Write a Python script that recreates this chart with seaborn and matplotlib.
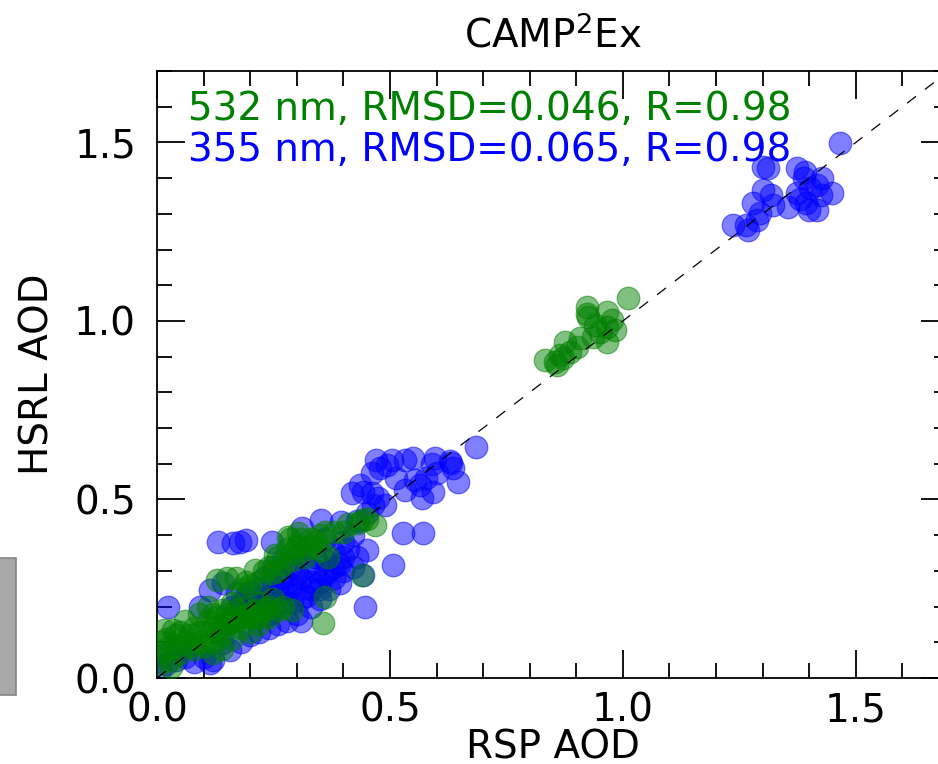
import matplotlib
matplotlib.use("Agg")
import matplotlib.pyplot as plt
from matplotlib.patches import Rectangle
from matplotlib.ticker import MultipleLocator
import seaborn as sns

# RSP vs HSRL AOD
blue_x = [1.467, 1.300, 1.312, 1.373, 1.391, 1.388, 1.428, 1.301, 1.319, 1.373,
          1.401, 1.416, 1.448, 1.426, 1.280, 1.323, 1.355, 1.380, 1.394, 1.416,
          1.400, 1.294, 1.287, 1.237, 1.265, 1.269,
          0.685, 0.632, 0.628, 0.636, 0.647, 0.597, 0.600, 0.593, 0.568, 0.564,
          0.554, 0.550, 0.532, 0.532, 0.514, 0.504, 0.493, 0.471, 0.479, 0.461,
          0.436, 0.418, 0.443, 0.461, 0.475, 0.489, 0.464, 0.450, 0.529, 0.571,
          0.506, 0.578, 0.590,
          0.450, 0.443, 0.446, 0.393, 0.430, 0.396, 0.353, 0.311, 0.132, 0.164,
          0.178, 0.192, 0.246, 0.420, 0.410, 0.400, 0.380, 0.360, 0.430, 0.420,
          0.400, 0.380, 0.390, 0.370, 0.350, 0.340, 0.330, 0.310, 0.320, 0.300,
          0.290, 0.280, 0.270, 0.260, 0.250, 0.240, 0.230, 0.220, 0.210, 0.200,
          0.190, 0.180, 0.170, 0.160, 0.171, 0.142, 0.114, 0.092, 0.300, 0.310,
          0.280, 0.260, 0.240, 0.220, 0.200, 0.180, 0.157, 0.139, 0.120, 0.114,
          0.100, 0.080, 0.060, 0.040, 0.020, 0.006, 0.015, 0.024, 0.050, 0.330,
          0.350, 0.370, 0.250, 0.270, 0.310, 0.290, 0.340, 0.360, 0.230, 0.200,
          0.150, 0.130,
          0.220, 0.250, 0.280, 0.310, 0.330, 0.360, 0.380, 0.350, 0.300, 0.270,
          0.320, 0.400, 0.260, 0.290, 0.240]
blue_y = [1.499, 1.431, 1.427, 1.427, 1.417, 1.400, 1.399, 1.366, 1.352, 1.357,
          1.371, 1.380, 1.357, 1.352, 1.329, 1.324, 1.319, 1.342, 1.329, 1.310,
          1.310, 1.301, 1.282, 1.268, 1.268, 1.254,
          0.646, 0.601, 0.607, 0.587, 0.550, 0.615, 0.573, 0.521, 0.503, 0.540,
          0.554, 0.615, 0.610, 0.526, 0.559, 0.610, 0.596, 0.610, 0.587, 0.573,
          0.540, 0.517, 0.521, 0.517, 0.503, 0.484, 0.484, 0.461, 0.405, 0.405,
          0.316, 0.560, 0.600,
          0.358, 0.288, 0.200, 0.266, 0.440, 0.437, 0.442, 0.419, 0.381, 0.379,
          0.381, 0.386, 0.381, 0.400, 0.360, 0.380, 0.350, 0.330, 0.340, 0.310,
          0.300, 0.280, 0.320, 0.300, 0.270, 0.300, 0.250, 0.280, 0.230, 0.250,
          0.210, 0.270, 0.240, 0.210, 0.260, 0.230, 0.200, 0.250, 0.220, 0.190,
          0.230, 0.210, 0.170, 0.200, 0.237, 0.265, 0.246, 0.200, 0.180, 0.160,
          0.160, 0.150, 0.140, 0.130, 0.120, 0.100, 0.078, 0.097, 0.050, 0.041,
          0.060, 0.045, 0.060, 0.050, 0.040, 0.022, 0.065, 0.200, 0.090, 0.200,
          0.220, 0.250, 0.310, 0.330, 0.350, 0.310, 0.340, 0.390, 0.280, 0.240,
          0.150, 0.130,
          0.170, 0.190, 0.210, 0.220, 0.270, 0.290, 0.310, 0.250, 0.290, 0.280,
          0.310, 0.340, 0.250, 0.260, 0.180]

green_x = [1.011, 0.922, 0.922, 0.965, 0.926, 0.976, 0.965, 0.983, 0.951, 0.936,
           0.965, 0.908, 0.876, 0.901, 0.886, 0.865, 0.872, 0.833, 0.854, 0.858,
           0.940,
           0.468, 0.439, 0.432, 0.450, 0.410, 0.400, 0.380, 0.350, 0.330, 0.310,
           0.303, 0.285, 0.282, 0.353, 0.368, 0.318, 0.290, 0.270, 0.253, 0.246,
           0.230, 0.210, 0.190, 0.170, 0.150, 0.128, 0.439, 0.361, 0.357, 0.290,
           0.270, 0.260, 0.250, 0.240, 0.240, 0.217, 0.230, 0.220, 0.210, 0.200,
           0.190, 0.180, 0.170, 0.160, 0.150, 0.140, 0.130, 0.120, 0.110, 0.100,
           0.090, 0.080, 0.070, 0.060, 0.050, 0.035, 0.014, 0.010, 0.020, 0.006,
           0.030, 0.050, 0.040, 0.080, 0.100, 0.120, 0.140, 0.160, 0.180, 0.200,
           0.220, 0.060, 0.090, 0.110, 0.005, 0.030, 0.120, 0.140, 0.320, 0.340,
           0.260, 0.280, 0.300, 0.200, 0.180,
           0.020, 0.040, 0.070, 0.090, 0.130, 0.150, 0.170, 0.190, 0.210, 0.160,
           0.140, 0.120, 0.330, 0.360, 0.290, 0.240, 0.260, 0.220]
green_y = [1.063, 1.039, 1.020, 1.025, 1.011, 1.002, 0.983, 0.974, 0.969, 0.955,
           0.941, 0.951, 0.941, 0.927, 0.913, 0.904, 0.895, 0.890, 0.885, 0.876,
           0.990,
           0.428, 0.442, 0.433, 0.445, 0.430, 0.410, 0.410, 0.400, 0.370, 0.390,
           0.405, 0.390, 0.395, 0.358, 0.340, 0.340, 0.330, 0.320, 0.344, 0.293,
           0.300, 0.302, 0.270, 0.280, 0.280, 0.274, 0.288, 0.228, 0.153, 0.190,
           0.200, 0.190, 0.220, 0.200, 0.170, 0.172, 0.190, 0.210, 0.190, 0.180,
           0.200, 0.170, 0.190, 0.160, 0.180, 0.150, 0.170, 0.140, 0.160, 0.130,
           0.100, 0.140, 0.120, 0.100, 0.130, 0.134, 0.134, 0.100, 0.080, 0.069,
           0.050, 0.070, 0.090, 0.080, 0.090, 0.100, 0.120, 0.110, 0.140, 0.130,
           0.150, 0.160, 0.180, 0.200, 0.040, 0.030, 0.070, 0.080, 0.360, 0.380,
           0.340, 0.360, 0.370, 0.260, 0.250,
           0.110, 0.120, 0.090, 0.130, 0.130, 0.150, 0.160, 0.170, 0.170, 0.210,
           0.190, 0.180, 0.390, 0.410, 0.350, 0.310, 0.300, 0.270]

title = "CAMP$^2$Ex"
label_532 = "532 nm, RMSD=0.046, R=0.98"
label_355 = "355 nm, RMSD=0.065, R=0.98"

sns.set_theme(style="ticks")
plt.rcParams["font.family"] = ["DejaVu Sans"]
plt.rcParams["mathtext.fontset"] = "dejavusans"
plt.rcParams["text.color"] = "black"
plt.rcParams["axes.labelcolor"] = "black"

fs = 28
fig = plt.figure(figsize=(9.38, 7.64), dpi=100)
ax = fig.add_axes([157 / 938, 86 / 764, 792 / 938, 607 / 764])

sns.scatterplot(x=blue_x, y=blue_y, color="blue", alpha=0.5, s=265,
                edgecolor="blue", linewidth=0.9, ax=ax, zorder=2)
sns.scatterplot(x=green_x, y=green_y, color="green", alpha=0.5, s=265,
                edgecolor="green", linewidth=0.9, ax=ax, zorder=3)
ax.plot([0, 1.7], [0, 1.7], color="black", lw=0.9, dashes=(9, 9), zorder=4)

ax.set_xlim(0, 1.7)
ax.set_ylim(0, 1.7)
ax.xaxis.set_major_locator(MultipleLocator(0.5))
ax.yaxis.set_major_locator(MultipleLocator(0.5))
ax.xaxis.set_minor_locator(MultipleLocator(0.1))
ax.yaxis.set_minor_locator(MultipleLocator(0.1))
ax.tick_params(which="both", direction="in", top=True, right=True,
               width=1.3, colors="black", labelsize=fs)
ax.tick_params(which="major", length=20)
ax.tick_params(which="minor", length=10.8)
ax.tick_params(axis="x", which="major", pad=10)
ax.tick_params(axis="y", which="major", pad=15)
for sp in ax.spines.values():
    sp.set_linewidth(1.3)
    sp.set_color("black")

ax.set_xlabel("RSP AOD", fontsize=fs)
ax.set_ylabel("HSRL AOD", fontsize=fs)
ax.xaxis.set_label_coords(0.5, -0.084)
ax.yaxis.set_label_coords(-0.127, 0.5)
ax.set_title(title, fontsize=fs, pad=17)

ax.text(0.039, 0.919, label_532, color="green", fontsize=fs,
        transform=ax.transAxes, va="baseline", ha="left")
ax.text(0.039, 0.852, label_355, color="blue", fontsize=fs,
        transform=ax.transAxes, va="baseline", ha="left")

# piece of the neighbouring panel at the left edge
fig.patches.append(Rectangle((-0.01, 69 / 764), 25 / 938, 137 / 764,
                             transform=fig.transFigure, facecolor="#a8a8a8",
                             edgecolor="#858585", linewidth=1.2))

fig.savefig("out.png", dpi=100)
